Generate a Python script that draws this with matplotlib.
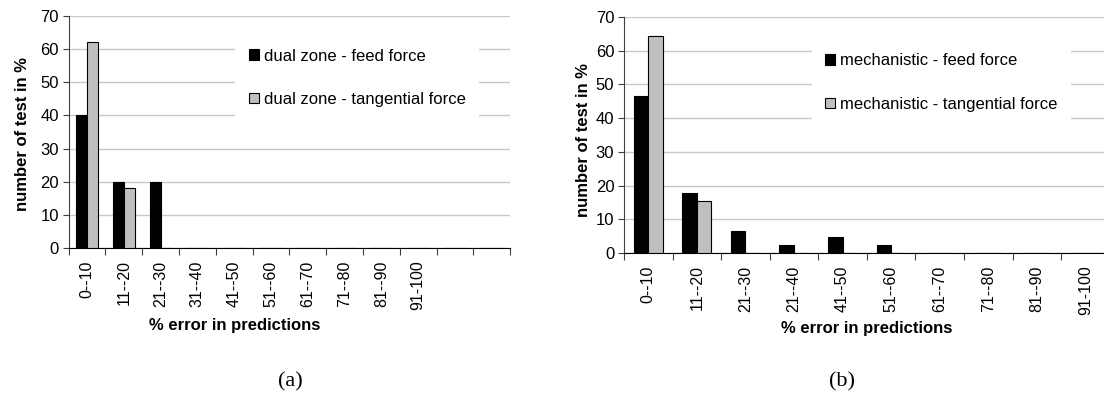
import numpy as np
import matplotlib.pyplot as plt
from matplotlib.patches import Patch

# datos
cats_a = ["0--10", "11--20", "21--30", "31--40", "41--50", "51--60",
          "61--70", "71--80", "81--90", "91-100", "", ""]
feed_a = [40, 20, 20, 0, 0, 0, 0, 0, 0, 0, 0, 0]
tang_a = [62.3, 18, 0, 0, 0, 0, 0, 0, 0, 0, 0, 0]

cats_b = ["0--10", "11--20", "21--30", "21--40", "41--50", "51--60",
          "61--70", "71--80", "81--90", "91-100"]
feed_b = [46.5, 17.8, 6.6, 2.3, 4.6, 2.3, 0, 0, 0, 0]
tang_b = [64.4, 15.5, 0, 0, 0, 0, 0, 0, 0, 0]

labels_a = ["dual zone - feed force", "dual zone - tangential force"]
labels_b = ["mechanistic - feed force", "mechanistic - tangential force"]

plt.rcParams['font.family'] = ['Liberation Sans', 'DejaVu Sans']

fig = plt.figure(figsize=(11.04, 4.07), dpi=100)
ax1 = fig.add_axes([0.0621, 0.3907, 0.400, 0.570])
ax2 = fig.add_axes([0.5652, 0.3784, 0.440, 0.580])

w = 0.3

def dibujar(ax, cats, feed, tang, labels, leg_xy, xlab_xy, ylab_xy):
    n = len(cats)
    x = np.arange(n)
    ax.bar(x - w/2, feed, w, color='black', edgecolor='black', linewidth=0.8, zorder=3)
    ax.bar(x + w/2, tang, w, color='#c0c0c0', edgecolor='black', linewidth=0.8, zorder=3)
    ax.set_xlim(-0.5, n - 0.5)
    ax.set_ylim(0, 70)
    ax.set_yticks(range(0, 71, 10))
    ax.grid(axis='y', color='#c8c8c8', linewidth=1.0, zorder=0)
    ax.set_axisbelow(True)
    for s in ['top', 'right']:
        ax.spines[s].set_visible(False)
    ax.spines['left'].set_color('#404040')
    ax.spines['bottom'].set_color('black')
    # ticks entre categorias, etiquetas al centro
    ax.set_xticks(np.arange(n + 1) - 0.5)
    ax.set_xticklabels([])
    ax.tick_params(axis='x', which='major', direction='out', length=5, color='#404040')
    ax.set_xticks(x, minor=True)
    ax.set_xticklabels(cats, minor=True, rotation=90, fontsize=11.5)
    ax.tick_params(axis='x', which='minor', length=0, pad=9)
    ax.tick_params(axis='y', direction='out', length=4, labelsize=12, pad=3, color='#404040')
    ax.set_xlabel("% error in predictions", fontsize=12, fontweight='bold')
    ax.xaxis.set_label_coords(*xlab_xy)
    ax.set_ylabel("number of test in %", fontsize=12, fontweight='bold')
    ax.yaxis.set_label_coords(*ylab_xy)
    handles = [Patch(facecolor='black', edgecolor='black', linewidth=0.8),
               Patch(facecolor='#c0c0c0', edgecolor='black', linewidth=0.8)]
    leg = ax.legend(handles, labels, loc='upper left', bbox_to_anchor=leg_xy,
                    fontsize=12, frameon=True, facecolor='white', edgecolor='none',
                    framealpha=1, fancybox=False, handlelength=0.6, handleheight=0.6,
                    handletextpad=0.3, labelspacing=1.7, borderpad=0.8, borderaxespad=0)
    leg.set_zorder(5)

dibujar(ax1, cats_a, feed_a, tang_a, labels_a, (0.378, 0.917), (0.377, -0.303), (-0.087, 0.49))
dibujar(ax2, cats_b, feed_b, tang_b, labels_b, (0.387, 0.902), (0.5, -0.29), (-0.068, 0.48))

fig.text(0.2627, 0.062, "(a)", fontsize=16, family='Liberation Serif', ha='center', va='center')
fig.text(0.7627, 0.062, "(b)", fontsize=16, family='Liberation Serif', ha='center', va='center')

fig.savefig("out.png", dpi=100)
